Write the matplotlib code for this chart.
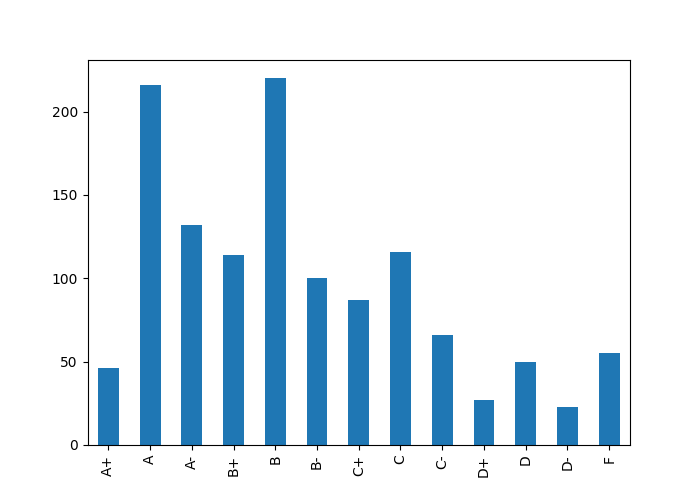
import matplotlib
matplotlib.use("Agg")
import matplotlib.pyplot as plt

grades = ["A+", "A", "A-", "B+", "B", "B-", "C+", "C", "C-", "D+", "D", "D-", "F"]
counts = [46, 216, 132, 114, 220, 100, 87, 116, 66, 27, 50, 23, 55]

fig, ax = plt.subplots(figsize=(7, 5), dpi=100)
x = range(len(grades))
ax.bar(x, counts, width=0.5, color="#1f77b4")
ax.set_xticks(list(x))
ax.set_xticklabels(grades, rotation=90)
ax.set_xlim(-0.5, len(grades) - 0.5)

fig.savefig("out.png", dpi=100)
